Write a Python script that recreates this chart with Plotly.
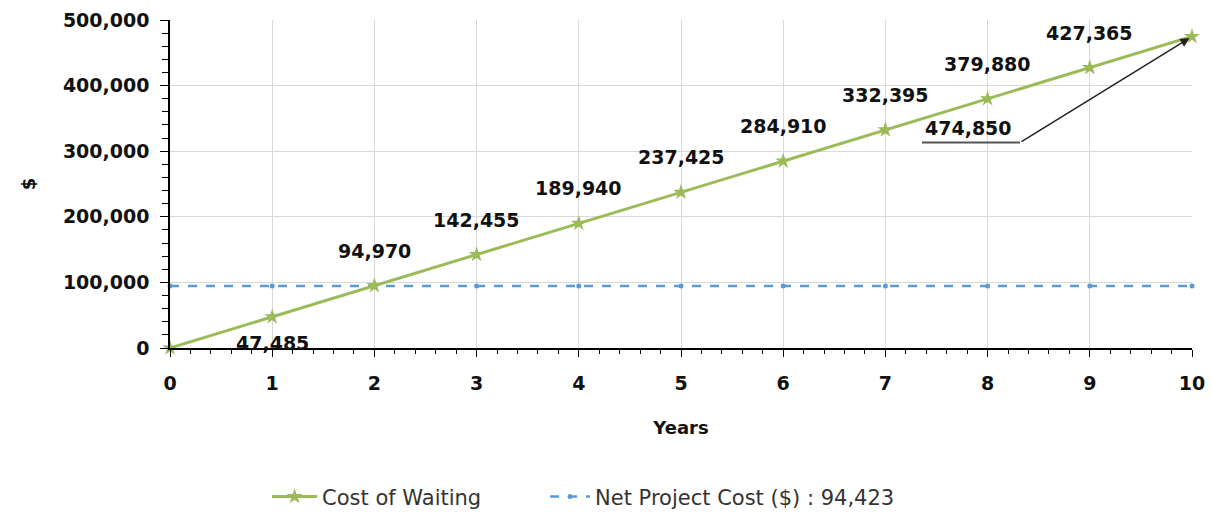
import plotly.graph_objects as go

years = [0, 1, 2, 3, 4, 5, 6, 7, 8, 9, 10]
cost_of_waiting = [0, 47485, 94970, 142455, 189940, 237425, 284910, 332395, 379880, 427365, 474850]
net_project_cost = 94423
y_ticks = [0, 100000, 200000, 300000, 400000, 500000]

GREEN = "#9BBB59"
BLUE = "#5B9BD5"
LBL_FONT = dict(family="DejaVu Sans", size=19, color="#111111")
TICK_FONT = dict(family="DejaVu Sans", size=19, color="#111111", weight="bold")
LEG_FONT = dict(family="DejaVu Sans", size=21, color="#333333")

fig = go.Figure()
fig.add_trace(go.Scatter(
    x=years, y=[net_project_cost] * len(years), mode="lines+markers",
    name=f"Net Project Cost ($) : {net_project_cost:,}",
    line=dict(color=BLUE, width=2.5, dash="dash"),
    marker=dict(symbol="circle", size=5, color=BLUE),
    cliponaxis=False, legend="legend2",
))
fig.add_trace(go.Scatter(
    x=years, y=cost_of_waiting, mode="lines+markers", name="Cost of Waiting",
    line=dict(color=GREEN, width=3),
    marker=dict(symbol="star", size=12, color=GREEN),
    cliponaxis=False, legend="legend",
))

for i, (xv, yv) in enumerate(zip(years, cost_of_waiting)):
    if i == 0 or i == len(years) - 1:
        continue
    shift = -26 if i == 1 else 35
    fig.add_annotation(x=xv, y=yv, text=f"<b>{yv:,}</b>", showarrow=False,
                       yshift=shift, font=LBL_FONT)

# callout for the last point
xl, yl = years[-1], cost_of_waiting[-1]
fig.add_annotation(x=xl, y=yl, text=f"<b>{yl:,}</b>", showarrow=False,
                   xshift=-224, yshift=-91, font=LBL_FONT)
fig.add_annotation(x=xl, y=yl, text="", showarrow=True, ax=-172, ay=106,
                   arrowhead=2, arrowsize=1.2, arrowwidth=1.5, arrowcolor="#222222",
                   standoff=3)
fig.add_shape(type="line", xref="x", yref="y", xsizemode="pixel", ysizemode="pixel",
              xanchor=xl, yanchor=yl, x0=-270, x1=-172, y0=-106, y1=-106,
              line=dict(color="#555555", width=2))

fig.update_layout(
    width=1211, height=513,
    margin=dict(l=170, r=19, t=20, b=165, autoexpand=False),
    paper_bgcolor="white", plot_bgcolor="white",
    showlegend=True,
    legend=dict(orientation="h", x=0.095, xanchor="left", y=-0.454, yanchor="middle",
                font=LEG_FONT, itemwidth=45, bgcolor="rgba(0,0,0,0)"),
    legend2=dict(orientation="h", x=0.367, xanchor="left", y=-0.454, yanchor="middle",
                 font=LEG_FONT, itemwidth=40, bgcolor="rgba(0,0,0,0)"),
    xaxis=dict(
        range=[0, 10], tickmode="array", tickvals=years, automargin=False,
        tickfont=TICK_FONT, ticklabelstandoff=10,
        showgrid=True, gridcolor="#D9D9D9", gridwidth=1,
        showline=True, linecolor="#000000", linewidth=1.5,
        ticks="outside", ticklen=7, tickcolor="#000000",
        minor=dict(dtick=0.2, ticks="outside", ticklen=4, tickcolor="#000000", showgrid=False),
        title=dict(text="<b>Years</b>", font=dict(family="DejaVu Sans", size=18, color="#111111"),
                   standoff=29),
        zeroline=False, mirror=False,
    ),
    yaxis=dict(
        range=[0, 500000], tickmode="array", tickvals=y_ticks, automargin=False,
        ticktext=[f"{v:,}" for v in y_ticks],
        tickfont=TICK_FONT, ticklabelstandoff=7,
        showgrid=True, gridcolor="#D9D9D9", gridwidth=1,
        showline=True, linecolor="#000000", linewidth=1.5,
        ticks="outside", ticklen=8, tickcolor="#000000",
        minor=dict(dtick=20000, ticks="outside", ticklen=6, tickcolor="#000000", showgrid=False),
        title=dict(text="<b>$</b>", font=dict(family="DejaVu Sans", size=18, color="#111111"),
                   standoff=23),
        zeroline=False,
    ),
)
fig.write_html("out.html", config={"displayModeBar": False},
               post_script="document.body.style.margin='0px';")
